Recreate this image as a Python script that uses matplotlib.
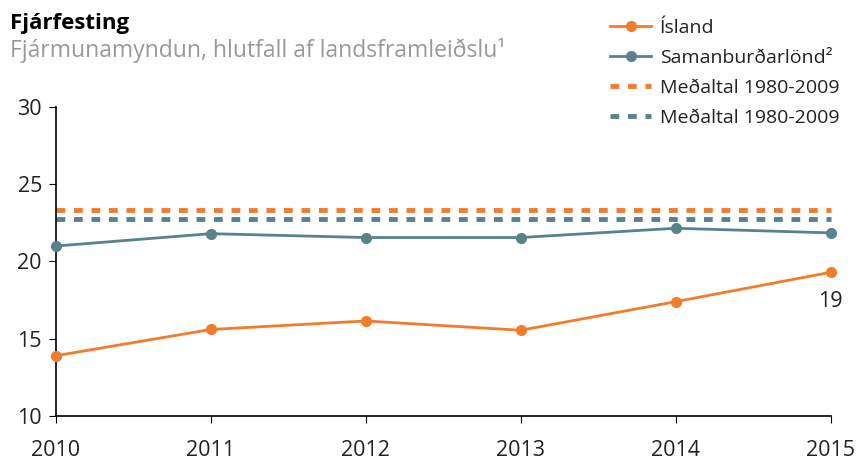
import matplotlib
matplotlib.use('Agg')
import matplotlib.pyplot as plt

years = [2010, 2011, 2012, 2013, 2014, 2015]
island = [13.9, 15.6, 16.15, 15.55, 17.4, 19.3]
saman = [21.0, 21.8, 21.55, 21.55, 22.15, 21.85]
avg_island = 23.3
avg_saman = 22.75
yticks = [10, 15, 20, 25, 30]

orange = '#F47B2A'
teal = '#56838C'
ink = '#222222'

plt.rcParams['font.family'] = ['Open Sans', 'DejaVu Sans']

fig = plt.figure(figsize=(8.59, 4.63), dpi=100)
ax = fig.add_axes([0.065, 0.1015, 0.902, 0.6675])

ax.plot(years, island, color=orange, lw=2, marker='o', ms=7, label='Ísland', zorder=3, clip_on=False)
ax.plot(years, saman, color=teal, lw=2, marker='o', ms=7, label='Samanburðarlönd²', zorder=3, clip_on=False)
ax.plot([years[0], years[-1]], [avg_island] * 2, color=orange, lw=3.5, ls=(0, (1.8, 1.8)),
        label='Meðaltal 1980-2009', clip_on=False)
ax.plot([years[0], years[-1]], [avg_saman] * 2, color=teal, lw=3.5, ls=(0, (1.8, 1.8)),
        label='Meðaltal 1980-2009', clip_on=False)

ax.annotate(f'{island[-1]:.0f}', (years[-1], island[-1]), xytext=(0, -21), textcoords='offset points',
            ha='center', va='center', fontsize=15.5, color=ink)

ax.set_xlim(years[0], years[-1])
ax.set_ylim(10, 30)
ax.set_yticks(yticks)
ax.set_xticks(years)
ax.tick_params(axis='y', length=5, labelsize=15.5, pad=5, labelcolor=ink)
ax.tick_params(axis='x', length=5, labelsize=15.5, pad=12, labelcolor=ink)
for s in ['top', 'right']:
    ax.spines[s].set_visible(False)
for s in ['left', 'bottom']:
    ax.spines[s].set_linewidth(1.2)

fig.text(0.012, 0.95, 'Fjárfesting', fontsize=16, fontweight='bold', va='center')
fig.text(0.012, 0.892, 'Fjármunamyndun, hlutfall af landsframleiðslu¹', fontsize=16.5, color='#999999', va='center')

fig.legend(loc='upper left', bbox_to_anchor=(0.69, 0.997), frameon=False, fontsize=14,
           handlelength=2.1, labelspacing=0.62, handletextpad=0.45, labelcolor=ink)

fig.savefig('out.png', dpi=100)
